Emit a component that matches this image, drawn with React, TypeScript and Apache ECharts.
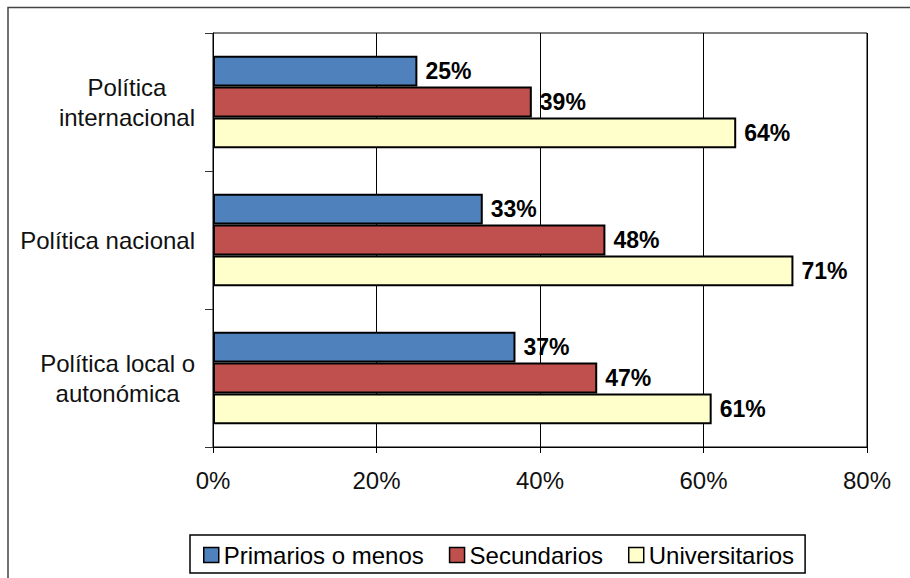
import React, { useEffect, useRef } from "react";
import * as echarts from "echarts";

const categories = ["Política\ninternacional", "Política nacional", "Política local o\nautonómica"];
const seriesNames = ["Primarios o menos", "Secundarios", "Universitarios"];
const primarios = [25, 33, 37];
const secundarios = [39, 48, 47];
const universitarios = [64, 71, 61];
const seriesColors = ["#4F81BD", "#C0504D", "#FFFFCC"];
const xMin = 0;
const xMax = 80;
const xInterval = 20;

const FONT = "'Liberation Sans', Arial, Helvetica, sans-serif";

export default function App() {
  const ref = useRef<HTMLDivElement>(null);

  useEffect(() => {
    if (!ref.current) return;
    const chart = echarts.init(ref.current, undefined, { renderer: "svg" });
    const values = [primarios, secundarios, universitarios];
    chart.setOption({
      animation: false,
      backgroundColor: "#ffffff",
      textStyle: { fontFamily: FONT },
      graphic: [
        {
          type: "rect",
          silent: true,
          z: -10,
          shape: { x: 8, y: 7.5, width: 1400, height: 1400 },
          style: { fill: "none", stroke: "#444", lineWidth: 1.5 },
        },
      ],
      grid: {
        left: 213,
        top: 33,
        right: 43,
        bottom: 131,
        show: true,
        borderColor: "#000",
        borderWidth: 1,
        backgroundColor: "transparent",
      },
      legend: {
        data: seriesNames,
        left: 190,
        top: 535,
        orient: "horizontal",
        padding: [8, 11, 6, 13],
        itemGap: 25,
        itemWidth: 15,
        itemHeight: 15,
        icon: "rect",
        borderColor: "#000",
        borderWidth: 1.5,
        borderRadius: 0,
        itemStyle: { borderColor: "#000", borderWidth: 1.5 },
        textStyle: { fontSize: 24, color: "#000", fontFamily: FONT },
      },
      xAxis: {
        type: "value",
        min: xMin,
        max: xMax,
        interval: xInterval,
        axisLine: { show: true, lineStyle: { color: "#000", width: 1 } },
        axisTick: { show: true, length: 6, lineStyle: { color: "#000" } },
        splitLine: { show: true, lineStyle: { color: "#000", width: 1 } },
        axisLabel: {
          formatter: "{value}%",
          fontSize: 24,
          color: "#111",
          margin: 21,
          fontFamily: FONT,
        },
      },
      yAxis: {
        type: "category",
        data: categories,
        inverse: true,
        axisLine: { show: true, lineStyle: { color: "#000", width: 1 } },
        axisTick: { show: true, length: 8, lineStyle: { color: "#333" } },
        splitLine: { show: false },
        axisLabel: {
          margin: 18,
          color: "#111",
          fontSize: 24,
          fontFamily: FONT,
          formatter: (v: string) =>
            v
              .split("\n")
              .map((l) => `{c|${l}}`)
              .join("\n"),
          rich: {
            c: {
              align: "center",
              fontSize: 24,
              lineHeight: 30,
              color: "#111",
              fontFamily: FONT,
            },
          },
        },
      },
      series: seriesNames.map((name, i) => ({
        name,
        type: "bar",
        data: values[i],
        barGap: "0%",
        barCategoryGap: "33%",
        itemStyle: { color: seriesColors[i], borderColor: "#000", borderWidth: 2 },
        label: {
          show: true,
          position: "right",
          distance: 8,
          formatter: "{c}%",
          fontSize: 23,
          fontWeight: "bold",
          color: "#000",
          fontFamily: FONT,
        },
      })),
    });
    return () => chart.dispose();
  }, []);

  return (
    <div
      ref={ref}
      style={{ position: "fixed", left: 0, top: 0, width: 910, height: 578 }}
    />
  );
}
